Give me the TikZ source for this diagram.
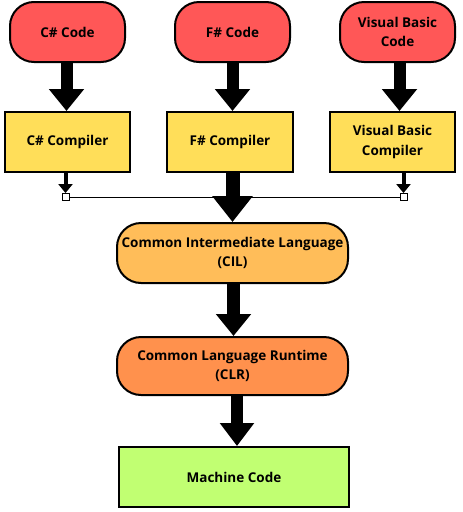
\documentclass[tikz,border=0pt]{standalone}
\usepackage{fontspec}
\setmainfont{Open Sans}
\usetikzlibrary{arrows.meta,calc}
\definecolor{cred}{HTML}{FF5757}
\definecolor{cyel}{HTML}{FFDE59}
\definecolor{corg}{HTML}{FFBD59}
\definecolor{cdorg}{HTML}{FF914D}
\definecolor{cgrn}{HTML}{C1FF72}
\begin{document}
\begin{tikzpicture}[x=1pt,y=-1pt,
  box/.style={draw=black, line width=2pt, align=center, inner sep=1pt,
    font=\bfseries\fontsize{13.5}{19.5}\selectfont, text=black},
  pill/.style={box, rounded corners=24pt},
  bigarr/.style={line width=12pt, -{Triangle[width=34pt,length=22pt]}},
  smallarr/.style={line width=4pt, -{Triangle[width=14pt,length=9pt]}},
  sqr/.style={draw=black, line width=0.9pt, fill=white, minimum size=7pt, inner sep=0pt}]
\useasboundingbox (0,0) rectangle (463,512);
% top row
\node[pill, fill=cred, minimum width=115pt, minimum height=60pt] (cs) at (67.5,32) {C\# Code};
\node[pill, fill=cred, minimum width=115pt, minimum height=60pt] (fs) at (232.5,32) {F\# Code};
\node[pill, fill=cred, minimum width=115pt, minimum height=60pt] (vb) at (397.5,32) {Visual Basic\\Code};
% compilers
\node[box, fill=cyel, minimum width=125pt, minimum height=60pt] (csc) at (67.5,142) {C\# Compiler};
\node[box, fill=cyel, minimum width=126pt, minimum height=60pt] (fsc) at (230,142) {F\# Compiler};
\node[box, fill=cyel, minimum width=125pt, minimum height=60pt] (vbc) at (392.5,142) {Visual Basic\\Compiler};
% lower chain
\node[pill, fill=corg, minimum width=231pt, minimum height=60pt] (cil) at (232.5,253) {Common Intermediate Language\\(CIL)};
\node[pill, fill=cdorg, minimum width=231pt, minimum height=58pt] (clr) at (232.5,366) {Common Language Runtime\\(CLR)};
\node[box, fill=cgrn, minimum width=230pt, minimum height=60pt] (mc) at (234,477) {Machine Code};
% junction squares
\node[sqr] (sq1) at (65.5,197) {};
\node[sqr] (sq2) at (403.5,197) {};
\draw[line width=0.9pt] (sq1.east) -- (sq2.west);
% arrows top
\draw[bigarr] ([xshift=-1pt]cs.south) -- ([xshift=-1pt]cs.south |- csc.north);
\draw[bigarr] (fs.south) -- (fs.south |- fsc.north);
\draw[bigarr] ([xshift=2pt]vb.south) -- ([xshift=2pt]vb.south |- vbc.north);
% small arrows
\draw[smallarr] (sq1 |- csc.south) -- (sq1.north);
\draw[smallarr] (sq2 |- vbc.south) -- (sq2.north);
% big arrows
\draw[bigarr, line width=14pt, -{Triangle[width=39pt,length=26pt]}] (fs.south |- fsc.south) -- (fs.south |- cil.north);
\draw[bigarr, line width=13pt] ([xshift=1pt]cil.south) -- ([xshift=1pt]cil.south |- clr.north);
\draw[bigarr, line width=12pt, -{Triangle[width=33pt,length=23pt]}] ([xshift=3pt]mc.north |- clr.south) -- ([xshift=3pt]mc.north);
\end{tikzpicture}
\end{document}
